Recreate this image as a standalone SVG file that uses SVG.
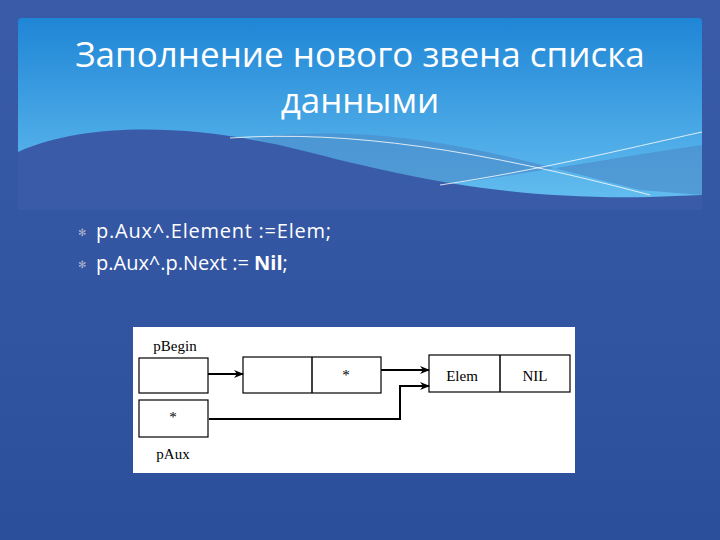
<svg xmlns="http://www.w3.org/2000/svg" width="720" height="540" viewBox="0 0 720 540">
<defs>
<linearGradient id="bg" x1="0" y1="0" x2="0" y2="1"><stop offset="0" stop-color="#3a5ca8"/><stop offset="1" stop-color="#2c4f9c"/></linearGradient>
<linearGradient id="hd" x1="0" y1="0" x2="0" y2="1"><stop offset="0" stop-color="#1f86d6"/><stop offset="1" stop-color="#66bff0"/></linearGradient>
<marker id="ar" markerWidth="10" markerHeight="8" refX="9" refY="4" orient="auto" markerUnits="userSpaceOnUse"><path d="M0,0 L10,4 L0,8 L3,4 Z" fill="#000"/></marker>
</defs>
<style>
.t{font-family:"Open Sans","DejaVu Sans",sans-serif;fill:#fff}
.b{font-family:"Open Sans","DejaVu Sans",sans-serif;fill:#fff;font-size:20px}
.m{fill:#aab4cc;font-family:"DejaVu Sans",sans-serif;font-size:10px}
.s{font-family:"Liberation Serif",serif;font-size:15px;fill:#000}
.bx{fill:#fff;stroke:#000;stroke-width:1.2}
.c{fill:none;stroke:#000;stroke-width:2}
</style>
<rect width="720" height="540" fill="url(#bg)"/>
<rect x="18" y="18" width="684" height="190" rx="4" fill="url(#hd)"/>
<path d="M250,138 C400,120 520,160 640,190 L702,195 L702,145 C600,160 520,175 440,185 Z" fill="#4b8fcc" opacity="0.7"/>
<path d="M18,152 C90,120 200,125 300,150 C400,175 500,200 650,197 L702,195 L702,210 L18,210 Z" fill="#3a5ca8"/>
<path d="M230,138 C350,130 480,150 650,195" fill="none" stroke="#fff" stroke-width="0.8"/>
<path d="M440,185 C540,170 620,150 702,132" fill="none" stroke="#fff" stroke-width="0.8"/>
<text class="t" x="360" y="67" font-size="35" text-anchor="middle">Заполнение нового звена списка</text>
<text class="t" x="360" y="113" font-size="35" text-anchor="middle">данными</text>
<g id="bullets">
<text class="m" x="78" y="236">✻</text>
<text class="b" x="96" y="238" textLength="235">p.Aux^.Element :=Elem;</text>
<text class="m" x="78" y="268">✻</text>
<text class="b" x="96" y="270">p.Aux^.p.Next := <tspan font-weight="bold">Nil</tspan>;</text>
</g>
<rect x="133" y="327" width="442" height="146" fill="#fff"/>
<g id="pBegin"><rect class="bx" x="139" y="358" width="69" height="35"/><text class="s" x="175" y="351" text-anchor="middle">pBegin</text></g>
<g id="pAux"><rect class="bx" x="139" y="400" width="69" height="37"/><text class="s" x="173" y="422" text-anchor="middle">*</text><text class="s" x="173" y="459" text-anchor="middle">pAux</text></g>
<g id="node1"><rect class="bx" x="243" y="357" width="138" height="36"/><line x1="312" y1="357" x2="312" y2="393" stroke="#000" stroke-width="1.5"/><text class="s" x="346" y="380" text-anchor="middle">*</text></g>
<g id="node2"><rect class="bx" x="429" y="355" width="141" height="37"/><line x1="500" y1="355" x2="500" y2="392" stroke="#000" stroke-width="1.5"/><text class="s" x="462" y="381" text-anchor="middle">Elem</text><text class="s" x="535" y="381" text-anchor="middle">NIL</text></g>
<g id="connectors">
<path class="c" d="M208,374 L243,374" marker-end="url(#ar)"/>
<path class="c" d="M381,370 L429,370" marker-end="url(#ar)"/>
<path class="c" d="M209,419 L400,419 L400,386 L429,386" stroke-width="1.5" marker-end="url(#ar)"/>
</g>
</svg>
